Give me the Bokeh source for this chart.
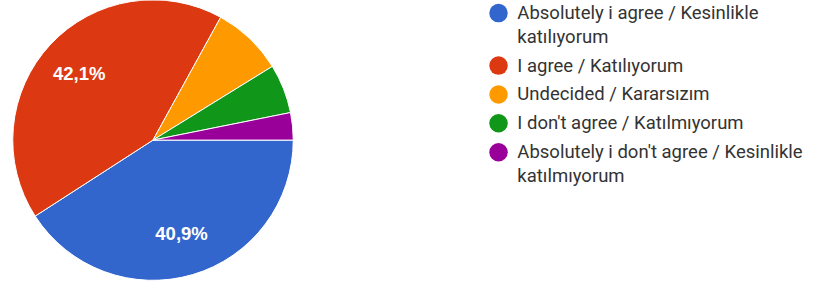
import math
from bokeh.plotting import figure
from bokeh.models import Range1d, ColumnDataSource
from bokeh.core.properties import value
from bokeh.embed import file_html
from bokeh.resources import INLINE

# ---- data ----
categories = [
    "Absolutely i agree / Kesinlikle katılıyorum",
    "I agree / Katılıyorum",
    "Undecided / Kararsızım",
    "I don't agree / Katılmıyorum",
    "Absolutely i don't agree / Kesinlikle katılmıyorum",
]
counts = [65, 67, 13, 9, 5]
colors = ["#3366cc", "#dc3912", "#ff9900", "#109618", "#990099"]

# ---- layout: data coordinates follow an 831x298 canvas (y negated) ----
W, H = 815, 282
p = figure(width=W, height=H, output_backend="svg", toolbar_location=None,
           x_range=Range1d(0, 831), y_range=Range1d(-298, 0),
           x_axis_location=None, y_axis_location=None, min_border=0)
p.grid.visible = False
p.outline_line_color = None
p.background_fill_color = "white"
p.border_fill_color = "white"

cx, cy, r = 155.5, -147.5, 143
total = sum(counts)
starts, ends, mids = [], [], []
acc = 0
for c in counts:
    a0 = acc / total * 2 * math.pi
    acc += c
    a1 = acc / total * 2 * math.pi
    starts.append(-a0)
    ends.append(-a1)
    mids.append(-(a0 + a1) / 2)

src = ColumnDataSource(dict(start=starts, end=ends, color=colors, cat=categories))
p.wedge(x=cx, y=cy, radius=r, start_angle="start", end_angle="end",
        direction="clock", fill_color="color", line_color="white",
        line_width=1, source=src)

# slice labels
lx, ly, lt = [], [], []
for c, m in zip(counts, mids):
    share = c / total * 100
    if share > 20:
        lx.append(cx + 0.72 * r * math.cos(m))
        ly.append(cy + 0.72 * r * math.sin(m))
        lt.append(f"{share:.1f}".replace(".", ",") + "%")
p.text(x=lx, y=ly, text=lt, text_color="white",
       text_font=value("Liberation Sans"), text_font_style="bold",
       text_font_size="18.5px", text_align="center", text_baseline="middle")

# legend
mx, tx = 507.8, 527
y = 13.3
dot_x, dot_y, dot_c = [], [], []
txt_x, txt_y, txt = [], [], []
for cat, col in zip(categories, colors):
    lines = cat.rsplit(" ", 1) if len(cat) > 30 else [cat]
    dot_x.append(mx); dot_y.append(-y); dot_c.append(col)
    for i, ln in enumerate(lines):
        txt_x.append(tx); txt_y.append(-(y + 25 * i)); txt.append(ln)
    y += 25 * (len(lines) - 1) + 30.5

p.scatter(x=dot_x, y=dot_y, size=18.5, marker="circle", fill_color=dot_c,
          line_color=None)
p.text(x=txt_x, y=txt_y, text=txt, text_color="#333333",
       text_font=value("Roboto"), text_font_size="18.5px",
       text_align="left", text_baseline="middle")

open("out.html", "w").write(file_html(p, INLINE))
